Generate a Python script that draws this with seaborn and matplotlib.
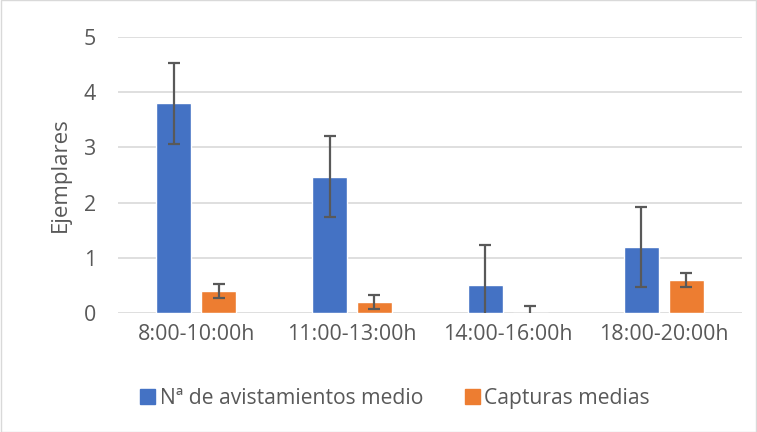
import pandas as pd
import matplotlib.pyplot as plt
import seaborn as sns

# Data
franjas = ["8:00-10:00h", "11:00-13:00h", "14:00-16:00h", "18:00-20:00h"]
avistamientos = [3.8, 2.47, 0.5, 1.2]
capturas = [0.4, 0.2, 0.0, 0.6]
err_avist = [0.73, 0.73, 0.73, 0.73]
err_capt = [0.13, 0.12, 0.13, 0.13]
series = ["Nª de avistamientos medio", "Capturas medias"]
colores = ["#4472C4", "#ED7D31"]

sns.set_theme(style="white")
plt.rcParams['font.family'] = ['Open Sans', 'DejaVu Sans']
gris = "#595959"

df = pd.DataFrame({
    "franja": franjas * 2,
    "valor": avistamientos + capturas,
    "serie": [series[0]] * 4 + [series[1]] * 4,
})

fig = plt.figure(figsize=(7.57, 4.32), dpi=100)
ax = fig.add_axes([0.156, 0.2755, 0.824, 0.6385])

sns.barplot(data=df, x="franja", y="valor", hue="serie", palette=colores,
            width=0.577, gap=0.222, errorbar=None, saturation=1, ax=ax)

# Error bars on top of each series
for cont, errs in zip(ax.containers, [err_avist, err_capt]):
    xs = [b.get_x() + b.get_width() / 2 for b in cont]
    hs = [b.get_height() for b in cont]
    ax.errorbar(xs, hs, yerr=errs, fmt="none", ecolor=gris, elinewidth=1.6,
                capsize=4, capthick=1.6, zorder=5)

ax.set_ylim(0, 5)
ax.set_xlim(-0.5, 3.5)
ax.set_yticks([0, 1, 2, 3, 4, 5])
ax.yaxis.grid(True, color="#D9D9D9", linewidth=1.2)
ax.set_axisbelow(True)
for s in ["top", "right", "left", "bottom"]:
    ax.spines[s].set_visible(False)
ax.tick_params(axis="both", length=0, labelsize=15.4, colors=gris)
ax.tick_params(axis="x", pad=8)
ax.tick_params(axis="y", pad=16)
ax.set_xlabel("")
ax.set_ylabel("Ejemplares", fontsize=16, color=gris)
ax.yaxis.set_label_coords(-0.076, 0.5)

ax.legend_.remove()
handles = [plt.Rectangle((0, 0), 1, 1, color=c) for c in colores]
fig.legend(handles, series, loc="center", bbox_to_anchor=(0.522, 0.078), ncol=2,
           frameon=False, fontsize=15.2, handlelength=0.72, handleheight=0.72,
           handletextpad=0.22, columnspacing=1.95, labelcolor=gris)

fig.patches.append(plt.Rectangle((0.001, 0.001), 0.998, 0.998, transform=fig.transFigure,
                                 fill=False, edgecolor="#D9D9D9", linewidth=1))

fig.savefig("out.png", dpi=100)
